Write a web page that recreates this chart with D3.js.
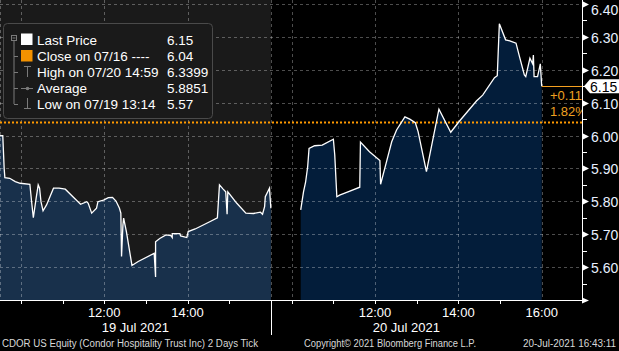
<!DOCTYPE html>
<html><head><meta charset="utf-8">
<script src="https://cdn.jsdelivr.net/npm/d3@7"></script>
<style>html,body{margin:0;padding:0;background:#000;overflow:hidden}svg{display:block}</style>
</head><body>
<svg id="c" width="619" height="351"></svg>
<script>
// ---------- data ----------
const day1Times=["09:30","09:34","09:36","09:37","09:44","09:52","09:59","10:13","10:16","10:18","10:22","10:25","10:27","10:29","10:32","10:37","10:47","10:55","11:04","11:15","11:26","11:35","11:37","11:42","11:49","11:51","11:59","12:06","12:12","12:17","12:22","12:24","12:25","12:27","12:28","12:32","12:40","12:49","13:12","13:14","13:14","13:20","13:29","13:36","13:38","13:38","13:49","13:50","13:59","14:01","14:11","14:32","14:43","14:46","14:51","14:55","14:57","14:58","15:11","15:24","15:35","15:45","15:48","15:51","15:52","15:58","16:00"];
const day1Prices=[6.00,6.00,5.90,5.872,5.87,5.86,5.855,5.852,5.789,5.75,5.809,5.85,5.84,5.799,5.771,5.789,5.84,5.84,5.837,5.814,5.791,5.799,5.794,5.764,5.779,5.799,5.804,5.811,5.812,5.801,5.779,5.764,5.632,5.728,5.749,5.708,5.605,5.617,5.642,5.57,5.677,5.687,5.698,5.696,5.69,5.702,5.702,5.695,5.69,5.708,5.716,5.738,5.75,5.85,5.838,5.829,5.761,5.829,5.794,5.764,5.763,5.767,5.761,5.784,5.814,5.84,5.779];
const day2Times=["10:13","10:17","10:20","10:23","10:25","10:33","10:44","11:00","11:02","11:05","11:09","11:21","11:38","11:39","11:52","12:07","12:08","12:16","12:24","12:31","12:43","12:50","12:58","13:02","13:14","13:32","13:49","14:02","14:26","14:35","14:52","14:56","14:59","15:08","15:14","15:23","15:28","15:35","15:37","15:43","15:47","15:48","15:49","15:54","15:58","16:00"];
const day2Prices=[5.774,5.829,5.858,5.905,5.961,5.969,5.971,5.989,5.941,5.814,5.819,5.829,5.843,5.98,5.951,5.924,5.852,5.916,5.981,6.017,6.057,6.05,6.039,6.012,5.89,6.08,6.01,6.045,6.105,6.123,6.176,6.182,6.3399,6.291,6.288,6.281,6.24,6.184,6.179,6.235,6.218,6.245,6.179,6.179,6.218,6.15];

const yTicks=[5.60,5.70,5.80,5.90,6.00,6.10,6.20,6.30,6.40];
const yMinorTicks=[5.55,5.65,5.75,5.85,5.95,6.05,6.15,6.25,6.35];
const yGrid=[5.50,5.60,5.70,5.80,5.90,6.00,6.10,6.20,6.30,6.40];
const gridTimes=["10:00","12:00","14:00","16:00"];
const hourTicks=["10:00","11:00","12:00","13:00","14:00","15:00"];
const day1TimeLabels=["12:00","14:00"];
const day2TimeLabels=["12:00","14:00","16:00"];
const dayLabels=["19 Jul 2021","20 Jul 2021"];
const prevClose=6.04;
const lastPrice=6.15;
const changeAbs="+0.11";
const changePct="1.82%";
const legendLabels=["Last Price","Close on 07/16 ----","High on 07/20 14:59","Average","Low on 07/19 13:14"];
const legendValues=["6.15","6.04","6.3399","5.8851","5.57"];
const footerLeft="CDOR US Equity (Condor Hospitality Trust Inc) 2 Days  Tick";
const footerMid="Copyright\u00A9 2021 Bloomberg Finance L.P.";
const footerRight="20-Jul-2021 16:43:11";

// ---------- helpers ----------
const SESSION=390;
function toMin(day,t){const [h,m]=t.split(":").map(Number);return day*SESSION+h*60+m-570;}
const x=d3.scaleLinear().domain([0,838]).range([0,582]);
const y=d3.scaleLinear().domain([5.50,6.40]).range([300,4]);
const FONT="'Liberation Sans', Arial, sans-serif";

const svg=d3.select("#c");
svg.append("rect").attr("width",619).attr("height",351).attr("fill","#000");
// day 1 grey background
svg.append("rect").attr("x",x(0)).attr("y",0).attr("width",x(SESSION)-x(0)).attr("height",y(5.50)).attr("fill","#1a1a1a");

const d1=day1Times.map((t,i)=>({m:toMin(0,t),v:day1Prices[i]}));
const d2=day2Times.map((t,i)=>({m:toMin(1,t),v:day2Prices[i]}));

const area=d3.area().x(d=>x(d.m)).y0(y(5.50)).y1(d=>y(d.v));
const line=d3.line().x(d=>x(d.m)).y(d=>y(d.v));
svg.append("path").attr("d",area(d1)).attr("fill","#18304b");
svg.append("path").attr("d",area(d2)).attr("fill","#031d3a");

// grid
const g=svg.append("g").attr("stroke","rgba(255,255,255,0.3)").attr("stroke-width",1).attr("stroke-dasharray","3,3");
yGrid.forEach(v=>g.append("line").attr("x1",0).attr("x2",582).attr("y1",Math.round(y(v))+0.5).attr("y2",Math.round(y(v))+0.5));
[0,1].forEach(day=>gridTimes.forEach(t=>{const xx=Math.round(x(toMin(day,t)))+0.5;
  g.append("line").attr("x1",xx).attr("x2",xx).attr("y1",0).attr("y2",300);}));
g.append("line").attr("x1",0.5).attr("x2",0.5).attr("y1",0).attr("y2",300);

// previous close dotted line
svg.append("line").attr("x1",0).attr("x2",582).attr("y1",y(prevClose)).attr("y2",y(prevClose))
  .attr("stroke","#ff9a00").attr("stroke-width",2).attr("stroke-dasharray","2,2");

// price lines
[d1,d2].forEach(d=>svg.append("path").attr("d",line(d)).attr("fill","none").attr("stroke","#fff").attr("stroke-width",1.3));

// last price orange line
const lastX=x(d2[d2.length-1].m);
svg.append("line").attr("x1",lastX).attr("x2",582).attr("y1",Math.round(y(lastPrice))+0.5).attr("y2",Math.round(y(lastPrice))+0.5)
  .attr("stroke","#f5a020").attr("stroke-width",1);
svg.append("text").attr("x",550).attr("y",y(lastPrice)+14).attr("fill","#eea020").attr("font-family",FONT).attr("font-size",13).text(changeAbs);
svg.append("text").attr("x",550).attr("y",y(lastPrice)+30).attr("fill","#eea020").attr("font-family",FONT).attr("font-size",13).text(changePct);

// mask to right of axis
svg.append("rect").attr("x",583).attr("y",0).attr("width",36).attr("height",300).attr("fill","#000");

// right axis
svg.append("line").attr("x1",582.5).attr("x2",582.5).attr("y1",0).attr("y2",301).attr("stroke","#fff").attr("stroke-width",1);
yTicks.forEach(v=>{const yy=Math.round(y(v))+0.5;
  svg.append("path").attr("d",`M583,${yy-3}L589,${yy}L583,${yy+3}Z`).attr("fill","#fff");
  svg.append("text").attr("x",591).attr("y",Math.max(yy,10)).attr("dominant-baseline","central")
    .attr("fill","#e8f0ff").attr("font-family",FONT).attr("font-size",14).text(v.toFixed(2));});
yMinorTicks.forEach(v=>{const yy=Math.round(y(v))+0.5;
  svg.append("line").attr("x1",583).attr("x2",587).attr("y1",yy).attr("y2",yy).attr("stroke","#fff");});

// last price flag
const ly=y(lastPrice);
svg.append("path").attr("d",`M584,${ly}L590,${ly-7}L619,${ly-7}L619,${ly+7}L590,${ly+7}Z`).attr("fill","#fff");
svg.append("text").attr("x",590).attr("y",ly+0.5).attr("dominant-baseline","central").attr("fill","#000")
  .attr("font-family",FONT).attr("font-size",14).text(lastPrice.toFixed(2));

// bottom axis
svg.append("line").attr("x1",0).attr("x2",584).attr("y1",300.5).attr("y2",300.5).attr("stroke","#fff");
svg.append("path").attr("d","M582,297.5L589,300.5L582,303.5Z").attr("fill","#fff");
[0,1].forEach(day=>hourTicks.forEach(t=>{const xx=Math.round(x(toMin(day,t)))+0.5;
  svg.append("line").attr("x1",xx).attr("x2",xx).attr("y1",300).attr("y2",304).attr("stroke","#fff");}));
svg.append("line").attr("x1",Math.round(x(SESSION))+0.5).attr("x2",Math.round(x(SESSION))+0.5).attr("y1",300).attr("y2",335).attr("stroke","#fff");
[[0,day1TimeLabels],[1,day2TimeLabels]].forEach(([day,labs])=>labs.forEach(t=>{
  svg.append("text").attr("x",x(toMin(day,t))).attr("y",312).attr("text-anchor","middle").attr("dominant-baseline","central")
    .attr("fill","#fff").attr("font-family",FONT).attr("font-size",13).text(t);}));
dayLabels.forEach((lab,day)=>svg.append("text").attr("x",x(day*SESSION+SESSION/2)).attr("y",327).attr("text-anchor","middle")
  .attr("dominant-baseline","central").attr("fill","#fff").attr("font-family",FONT).attr("font-size",13).text(lab));

// footer
const ft=(txt,xx,len,anchor)=>svg.append("text").attr("x",xx).attr("y",343.5).attr("dominant-baseline","central")
  .attr("text-anchor",anchor).attr("fill","#d8d8d8").attr("font-family",FONT).attr("font-size",10)
  .attr("textLength",len).attr("lengthAdjust","spacingAndGlyphs").text(txt);
ft(footerLeft,2,256,"start");
ft(footerMid,304,172,"start");
ft(footerRight,523,93,"start");

// legend
const L=svg.append("g");
L.append("rect").attr("x",3.5).attr("y",23.5).attr("width",209).attr("height",95).attr("rx",4).attr("fill","#1a1a1a").attr("stroke","#4a4a4a");
const rowY=[40,56,72,88,104];
const tree="#7a7a7a";
L.append("rect").attr("x",11.5).attr("y",35.5).attr("width",5).attr("height",5).attr("fill","none").attr("stroke",tree);
L.append("line").attr("x1",12.5).attr("x2",15.5).attr("y1",38).attr("y2",38).attr("stroke",tree);
L.append("line").attr("x1",14).attr("x2",14).attr("y1",41).attr("y2",104).attr("stroke",tree);
rowY.slice(1).forEach(r=>L.append("line").attr("x1",14).attr("x2",18).attr("y1",r+0.5).attr("y2",r+0.5).attr("stroke",tree));
L.append("rect").attr("x",21).attr("y",33.5).attr("width",11.5).attr("height",11.5).attr("fill","#fff");
L.append("rect").attr("x",21).attr("y",50).attr("width",11.5).attr("height",11.5).attr("fill","#f39200");
// high icon
L.append("line").attr("x1",24).attr("x2",31).attr("y1",66.5).attr("y2",66.5).attr("stroke",tree);
L.append("line").attr("x1",27.5).attr("x2",27.5).attr("y1",66).attr("y2",77).attr("stroke",tree);
// average icon
L.append("line").attr("x1",21).attr("x2",33).attr("y1",88.5).attr("y2",88.5).attr("stroke",tree);
L.append("circle").attr("cx",27.5).attr("cy",88.5).attr("r",1.8).attr("fill",tree);
// low icon
L.append("line").attr("x1",27.5).attr("x2",27.5).attr("y1",98).attr("y2",109).attr("stroke",tree);
L.append("line").attr("x1",24).attr("x2",31).attr("y1",108.5).attr("y2",108.5).attr("stroke",tree);
legendLabels.forEach((lab,i)=>{
  L.append("text").attr("x",37).attr("y",rowY[i]).attr("dominant-baseline","central").attr("fill","#fff")
    .attr("font-family",FONT).attr("font-size",13.5).text(lab);
  L.append("text").attr("x",167).attr("y",rowY[i]).attr("dominant-baseline","central").attr("fill","#fff")
    .attr("font-family",FONT).attr("font-size",13.5).text(legendValues[i]);
});
</script>
</body></html>
